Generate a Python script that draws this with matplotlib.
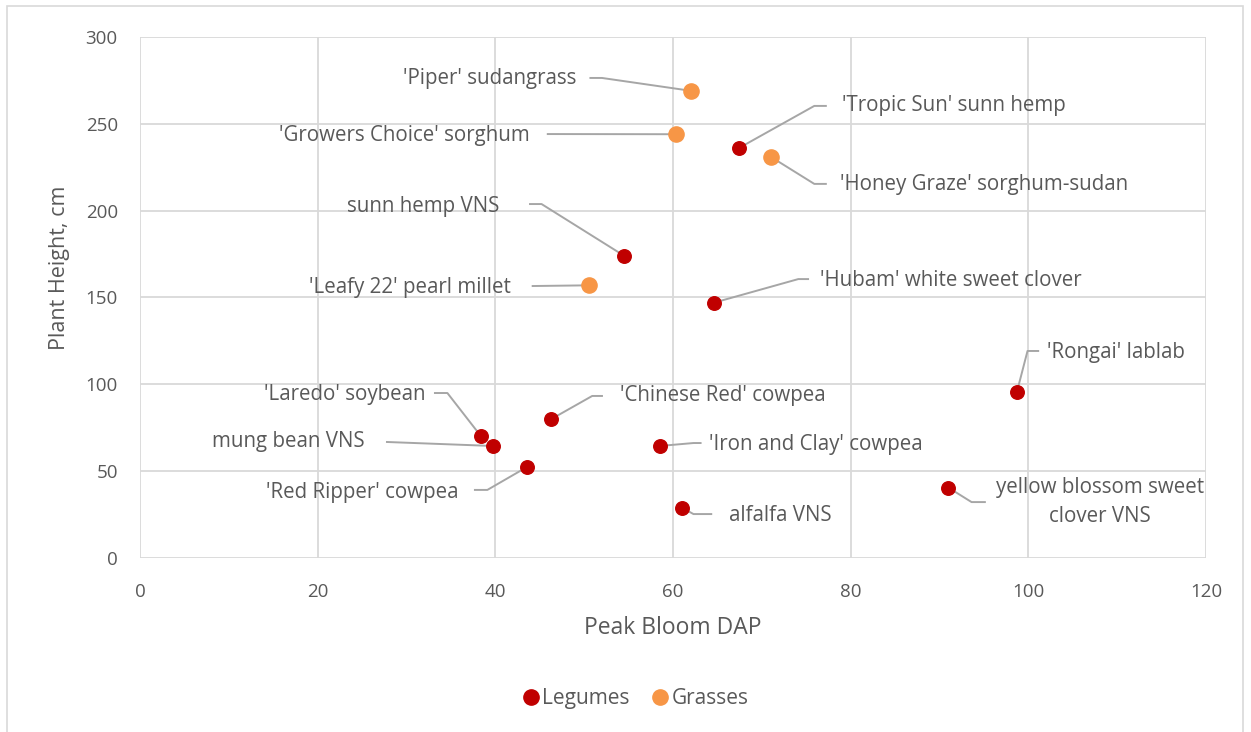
import matplotlib
matplotlib.use("Agg")
import matplotlib.pyplot as plt
from matplotlib.patches import Rectangle
from matplotlib.lines import Line2D

plt.rcParams["font.family"] = ["Open Sans", "DejaVu Sans"]

# Data
legume_names = ["'Tropic Sun' sunn hemp", "sunn hemp VNS", "'Hubam' white sweet clover",
                "'Rongai' lablab", "'Chinese Red' cowpea", "'Laredo' soybean",
                "mung bean VNS", "'Iron and Clay' cowpea", "'Red Ripper' cowpea",
                "alfalfa VNS", "yellow blossom sweet\nclover VNS"]
legume_dap = [67.4, 54.5, 64.6, 98.7, 46.3, 38.4, 39.7, 58.5, 43.6, 61.0, 91.0]
legume_height = [236, 174, 147, 95.5, 80, 70, 64.5, 64.5, 52.5, 29, 40.5]

grass_names = ["'Piper' sudangrass", "'Growers Choice' sorghum",
               "'Honey Graze' sorghum-sudan", "'Leafy 22' pearl millet"]
grass_dap = [62.0, 60.3, 71.0, 50.5]
grass_height = [269, 244, 231, 157]

# Label placement (text x, text y, ha, leader elbow, leader end) in data units
label_layout = {
    "'Tropic Sun' sunn hemp": (79.0, 260.3, "left", (75.9, 260.3), (77.2, 260.3)),
    "sunn hemp VNS": (40.5, 202.1, "right", (45.2, 203.8), (43.9, 203.8)),
    "'Hubam' white sweet clover": (76.5, 159.5, "left", (74.1, 160.6), (75.2, 160.6)),
    "'Rongai' lablab": (102.1, 118.6, "left", (99.9, 119.2), (101.1, 119.2)),
    "'Chinese Red' cowpea": (54.0, 93.3, "left", (50.9, 93.3), (52.0, 93.3)),
    "'Laredo' soybean": (32.1, 94.4, "right", (34.6, 95.0), (33.2, 95.0)),
    "mung bean VNS": (25.3, 66.8, "right", (27.8, 66.8), (27.8, 66.8)),
    "'Iron and Clay' cowpea": (64.1, 65.1, "left", (62.3, 66.2), (63.1, 66.2)),
    "'Red Ripper' cowpea": (35.8, 38.0, "right", (39.1, 39.2), (37.7, 39.2)),
    "alfalfa VNS": (66.3, 24.2, "left", (62.3, 25.3), (64.3, 25.3)),
    "yellow blossom sweet\nclover VNS": (108.1, 32.2, "center", (93.6, 32.2), (95.1, 32.2)),
    "'Piper' sudangrass": (49.1, 275.8, "right", (52.0, 276.4), (50.7, 276.4)),
    "'Growers Choice' sorghum": (43.9, 243.0, "right", (45.9, 244.1), (45.9, 244.1)),
    "'Honey Graze' sorghum-sudan": (78.8, 214.8, "left", (75.9, 215.4), (77.2, 215.4)),
    "'Leafy 22' pearl millet": (41.7, 156.0, "right", (44.2, 156.6), (44.2, 156.6)),
}

TEXT = "#595959"
GRID = "#d9d9d9"
LEADER = "#a6a6a6"
LEGUME_C = "#c00000"
GRASS_C = "#f79646"

fig = plt.figure(figsize=(12.51, 7.32), dpi=100)
ax = fig.add_axes([0.1119, 0.2377, 0.8522, 0.7118])

# outer chart border
fig.patches.append(Rectangle((7 / 1251, -0.05), 1236 / 1251, 1.05 - 6 / 732,
                             transform=fig.transFigure, fill=False,
                             edgecolor=GRID, linewidth=1.2))

ax.scatter(legume_dap, legume_height, s=95, color=LEGUME_C, zorder=4, label="Legumes")
ax.scatter(grass_dap, grass_height, s=120, color=GRASS_C, zorder=4, label="Grasses")

# leader lines and labels
points = list(zip(legume_names, legume_dap, legume_height)) + \
    list(zip(grass_names, grass_dap, grass_height))
for name, x, y in points:
    tx, ty, ha, elbow, end = label_layout[name]
    ax.plot([x, elbow[0], end[0]], [y, elbow[1], end[1]], color=LEADER,
            lw=1.4, zorder=3, clip_on=False)
    ax.text(tx, ty, name, ha=ha, va="center", fontsize=14.8, color=TEXT,
            multialignment="center", linespacing=1.45, clip_on=False, zorder=5)

ax.set_xlim(0, 120)
ax.set_ylim(0, 300)
ax.set_xticks(range(0, 121, 20))
ax.set_yticks(range(0, 301, 50))
ax.grid(True, color=GRID, linewidth=1.3)
ax.set_axisbelow(True)
for sp in ax.spines.values():
    sp.set_visible(False)
ax.tick_params(length=0, labelsize=13.5, labelcolor=TEXT)
ax.tick_params(axis="x", pad=18)
ax.tick_params(axis="y", pad=16)

ax.set_xlabel("Peak Bloom DAP", fontsize=16.5, color=TEXT, labelpad=11)
ax.set_ylabel("Plant Height, cm", fontsize=15.5, color=TEXT)
ax.yaxis.set_label_coords(-0.066, 0.557)

handles = [Line2D([], [], marker="o", ls="", color=LEGUME_C, markersize=11),
           Line2D([], [], marker="o", ls="", color=GRASS_C, markersize=11)]
fig.legend(handles, ["Legumes", "Grasses"], loc="center", bbox_to_anchor=(0.503, 0.046),
           ncol=2, frameon=False, fontsize=15, labelcolor=TEXT, handletextpad=-0.45,
           columnspacing=0.45)

fig.savefig("out.png", dpi=100)
